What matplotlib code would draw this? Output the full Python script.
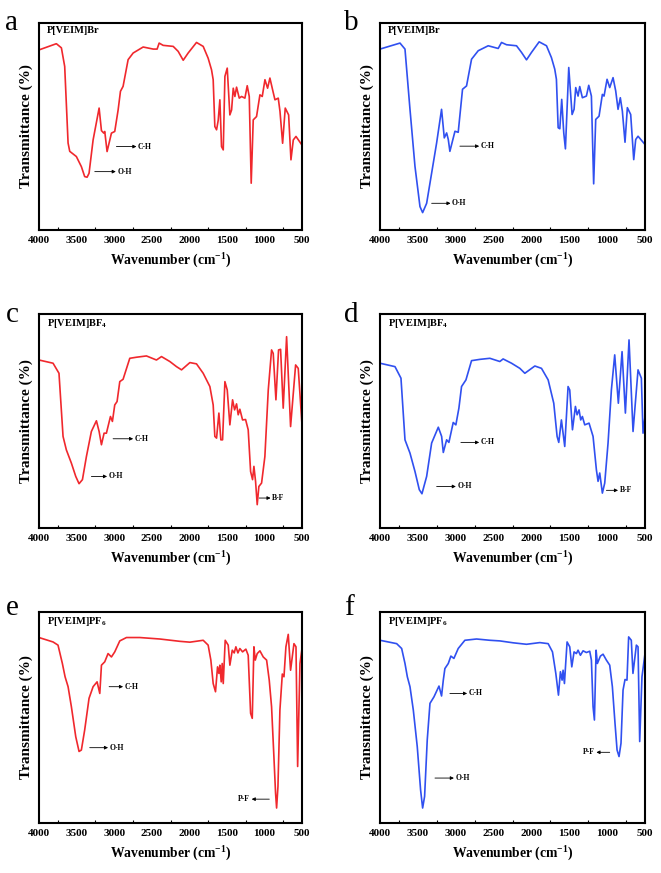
import matplotlib
matplotlib.use('Agg')
import matplotlib.pyplot as plt

plt.rcParams['font.family'] = 'Liberation Serif'
plt.rcParams['font.weight'] = 'bold'
plt.rcParams['mathtext.fontset'] = 'custom'
plt.rcParams['mathtext.rm'] = 'Liberation Serif:bold'
plt.rcParams['mathtext.bf'] = 'Liberation Serif:bold'

RED = '#f0282d'
BLUE = '#3050f0'

# ---- spectra (wavenumber, transmittance a.u.) ----
wn_a = [4000, 3769, 3702, 3658, 3613, 3591, 3503, 3436, 3392, 3360, 3334, 3280, 3200, 3169, 3138,
        3125, 3094, 3036, 2992, 2947, 2916, 2881, 2814, 2747, 2614, 2480, 2428, 2401, 2348, 2214,
        2148, 2081, 2015, 1904, 1815, 1749, 1704, 1682, 1660, 1637, 1615, 1593, 1571, 1548, 1526,
        1495, 1460, 1437, 1415, 1393, 1371, 1335, 1304, 1260, 1229, 1202, 1176, 1149, 1105, 1060,
        1029, 993, 958, 927, 891, 860, 816, 793, 758, 723, 678, 647, 616, 580, 500]
t_a = [87, 90, 88, 79, 42, 38, 35.5, 30.6, 25.8, 25.5, 27.4, 43.5, 58.9, 48, 46.8,
       47.6, 37.9, 46.8, 47.6, 58, 67, 69.4, 82.3, 85.5, 88.4, 87.4, 87.4, 90.3, 89.2, 88.7,
       86.3, 82, 85.5, 90.6, 88.7, 83, 77.4, 72.6, 50, 48.4, 53, 62.9, 40.3, 38.7, 74.2,
       78.2, 55.6, 58, 68.5, 64.5, 69, 63.7, 64.5, 63.7, 69.7, 64.5, 22.6, 53.2, 54.8, 65.3,
       64.5, 72.6, 68.5, 73.4, 67.7, 62.9, 63.7, 57.3, 41.9, 58.9, 55.6, 33.9, 43.5, 45.2, 41]

wn_b = [4000, 3736, 3670, 3604, 3538, 3472, 3437, 3384, 3318, 3252, 3187, 3151, 3120, 3098, 3077,
        3010, 2967, 2910, 2857, 2791, 2703, 2571, 2439, 2395, 2329, 2197, 2131, 2065, 1999, 1898,
        1801, 1736, 1692, 1670, 1647, 1625, 1600, 1573, 1551, 1507, 1463, 1437, 1415, 1384, 1362,
        1327, 1274, 1243, 1208, 1178, 1151, 1107, 1063, 1041, 1001, 966, 922, 887, 856, 826,
        799, 764, 733, 689, 649, 623, 592, 500]
t_b = [87.4, 90.3, 87.4, 58.3, 30.7, 11.3, 8.4, 12.9, 27.5, 42.1, 58.3, 44.5, 46.9, 43.7, 38,
       47.7, 47.2, 68, 69.6, 82.5, 86.6, 89, 87.7, 90.6, 89.5, 89, 85.8, 82.2, 85.8, 90.9,
       89, 83.3, 77.7, 72.8, 49.4, 48.9, 63.1, 46.9, 39.2, 78.5, 55.8, 58.3, 68.8, 64.7, 69.3,
       63.9, 64.7, 69.9, 64.7, 22.3, 53.4, 55, 65.5, 64.7, 72.8, 68.8, 73.6, 67.2, 58.3, 63.9,
       57.4, 42.4, 59.1, 55.8, 34, 43.7, 45.3, 41.3]

wn_c = [4000, 3813, 3734, 3680, 3636, 3569, 3511, 3467, 3422, 3369, 3303, 3236, 3200, 3169, 3134,
        3103, 3049, 3023, 2992, 2961, 2925, 2881, 2792, 2703, 2570, 2437, 2370, 2259, 2170, 2103,
        1992, 1904, 1815, 1726, 1682, 1660, 1637, 1606, 1580, 1557, 1526, 1495, 1460, 1424, 1397,
        1371, 1349, 1327, 1291, 1251, 1216, 1184, 1158, 1140, 1118, 1096, 1074, 1038, 994, 949,
        905, 883, 847, 812, 785, 750, 705, 652, 585, 550, 500]
t_c = [78.5, 77, 72.3, 42.8, 36.5, 30.3, 24.1, 20.7, 22.6, 33.4, 45.1, 50.1, 45.1, 38.9, 44.3,
       44.3, 52.1, 49.8, 57.5, 59.1, 68.4, 69.5, 79.3, 79.8, 80.4, 78.5, 80.1, 77.8, 75.4, 73.9,
       77.3, 76.7, 72.3, 66.1, 57.5, 42.8, 42, 53.7, 41.2, 41.2, 68.4, 64.5, 48.2, 59.9, 55.2,
       58, 52.9, 55.5, 50.5, 50.7, 45.9, 26.4, 22.6, 28.8, 21.8, 10.9, 19.4, 21, 33.4, 64.5,
       83.2, 81.6, 59.9, 83.2, 83.5, 56, 89.4, 47.4, 76.2, 74.6, 48.2]

wn_d = [4000, 3802, 3723, 3670, 3604, 3538, 3481, 3446, 3384, 3318, 3230, 3186, 3164, 3120, 3090,
        3033, 2998, 2958, 2923, 2865, 2791, 2681, 2549, 2417, 2374, 2263, 2153, 2087, 1955, 1867,
        1779, 1705, 1661, 1639, 1604, 1560, 1516, 1494, 1458, 1419, 1397, 1371, 1349, 1327, 1296,
        1239, 1186, 1142, 1120, 1098, 1063, 1032, 988, 944, 900, 852, 803, 759, 711, 658,
        592, 548, 526, 500]
t_d = [77, 75.4, 70, 41.2, 35, 26.4, 17.9, 16, 24.1, 39.7, 47.1, 42.8, 35.3, 41.2, 40,
       49.3, 48.2, 56, 66.1, 69.2, 78.2, 78.8, 79.3, 77.8, 79, 77, 74.6, 72.3, 75.7, 74.6,
       69.2, 58.3, 42.8, 40, 50.5, 38.1, 66.1, 64.5, 45.9, 56.8, 52.9, 55.2, 50.5, 52.1, 48.2,
       49, 42.8, 27.2, 21.8, 25.7, 16.3, 21, 39.7, 64.5, 80.9, 58.3, 82.4, 53.7, 87.9, 45.1,
       73.9, 70, 44.3, 52.1]

wn_e = [4000, 3813, 3747, 3689, 3653, 3613, 3569, 3511, 3467, 3436, 3392, 3334, 3280, 3227, 3191,
        3169, 3125, 3081, 3036, 2992, 2925, 2836, 2659, 2392, 2126, 1992, 1815, 1749, 1713, 1682,
        1651, 1624, 1606, 1593, 1575, 1562, 1548, 1522, 1482, 1460, 1428, 1402, 1380, 1353, 1327,
        1291, 1247, 1216, 1184, 1162, 1140, 1122, 1096, 1060, 1016, 971, 936, 905, 874, 852,
        838, 820, 794, 762, 740, 714, 683, 652, 607, 580, 558, 527, 500]
t_e = [87.9, 85.8, 84.3, 75.6, 69.3, 64.6, 55.1, 40.9, 33.9, 34.6, 44.1, 59.1, 64.6, 66.9, 61.4,
       74.8, 76.4, 80.3, 78.7, 81.1, 86.3, 87.9, 87.9, 87.2, 86.1, 85.7, 86.6, 84.3, 77.2, 66.1,
       62.2, 74, 70.9, 74.8, 66.9, 75.6, 66.1, 86.6, 84.3, 74.8, 81.9, 80.6, 83.5, 80.6, 82.7,
       81.1, 82.4, 79.5, 52, 49.6, 83.5, 77.2, 80.3, 81.6, 78.7, 77.2, 67.7, 55.1, 31.5, 14.2,
       7.1, 17.3, 53.5, 70.6, 69.3, 83.5, 89.4, 72.4, 85, 83.5, 26.8, 75.6, 82.7]

wn_f = [4000, 3780, 3714, 3670, 3639, 3604, 3560, 3508, 3464, 3437, 3411, 3376, 3340, 3287, 3221,
        3187, 3164, 3143, 3098, 3064, 3024, 2967, 2879, 2725, 2549, 2417, 2241, 2065, 1889, 1779,
        1722, 1678, 1643, 1617, 1595, 1582, 1564, 1546, 1529, 1494, 1467, 1437, 1406, 1384, 1353,
        1318, 1274, 1230, 1208, 1186, 1168, 1146, 1129, 1089, 1054, 1010, 966, 931, 896, 869,
        843, 817, 790, 764, 738, 716, 681, 659, 614, 592, 570, 540, 500]
t_f = [86.6, 85, 82.7, 75.6, 69.3, 64.6, 53.5, 36.2, 15.7, 7.1, 12.6, 39.4, 56.7, 59.8, 64.9,
       60.2, 67.7, 73.2, 75.6, 79.1, 78, 82.7, 86.6, 87.2, 86.6, 86.3, 85.4, 84.7, 85.5, 85,
       81.1, 70.9, 60.6, 71.7, 67.7, 72.4, 66.1, 76.4, 85.8, 83.5, 74, 81.1, 80.3, 81.9, 79.5,
       81.6, 80.8, 81.4, 77.2, 55.1, 48.8, 81.9, 75.6, 79.1, 80, 77.2, 74.8, 64.6, 47.2, 34.6,
       31.5, 37.8, 63, 68, 67.7, 88.2, 86.6, 70.9, 84.3, 83.5, 38.6, 69.3, 80.3]

titles = ['P[VEIM]Br', 'P[VEIM]Br', r'P[VEIM]BF$_\mathbf{4}$', r'P[VEIM]BF$_\mathbf{4}$',
          r'P[VEIM]PF$_\mathbf{6}$', r'P[VEIM]PF$_\mathbf{6}$']
letters = ['a', 'b', 'c', 'd', 'e', 'f']

# annotations: (label, tail x, head x, y)
notes = [
    [('C-H', 2970, 2703, 40.3), ('O-H', 3258, 2978, 28.2)],
    [('C-H', 2945, 2690, 40.5), ('O-H', 3318, 3068, 12.9)],
    [('C-H', 3014, 2747, 41.7), ('O-H', 3303, 3094, 24.1), ('B-F', 1069, 918, 14)],
    [('C-H', 2932, 2690, 40.0), ('O-H', 3252, 2998, 19.4), ('B-F', 1010, 856, 17.6)],
    [('C-H', 3067, 2881, 64.6), ('O-H', 3325, 3081, 35.7), ('P-F', 935, 1170, 11.3)],
    [('C-H', 3077, 2849, 61.4), ('O-H', 3274, 3024, 21.3), ('P-F', 966, 1142, 33.5)],
]

series = [(wn_a, t_a, RED), (wn_b, t_b, BLUE), (wn_c, t_c, RED),
          (wn_d, t_d, BLUE), (wn_e, t_e, RED), (wn_f, t_f, BLUE)]

W, H = 661, 873
boxes = [(39, 23, 302, 230), (380, 23, 645, 230),
         (39, 314, 302, 528), (380, 314, 645, 528),
         (39, 612, 302, 823), (380, 612, 645, 823)]
letter_pos = [(5, 30), (344, 30), (6, 322), (344, 322), (6, 615), (344, 615)]

fig = plt.figure(figsize=(W / 100, H / 100), dpi=100)

for i, (wn, t, col) in enumerate(series):
    x0, y0, x1, y1 = boxes[i]
    ax = fig.add_axes([x0 / W, 1 - y1 / H, (x1 - x0) / W, (y1 - y0) / H])
    ax.plot(wn, t, color=col, lw=1.2)
    ax.set_xlim(4000, 500)
    ax.set_ylim(0, 100)
    ax.set_xticks([4000, 3500, 3000, 2500, 2000, 1500, 1000, 500])
    ax.set_xticks([3750, 3250, 2750, 2250, 1750, 1250, 750], minor=True)
    ax.tick_params(axis='x', which='major', length=0, labelsize=8, pad=4)
    ax.tick_params(axis='x', which='minor', direction='in', length=2.5, width=0.8)
    ax.set_yticks([])
    for s in ax.spines.values():
        s.set_linewidth(1.5)
    ax.set_xlabel(r'Wavenumber (cm$^\mathbf{-1}$)', fontsize=9.8, fontweight='bold', labelpad=4)
    ax.set_ylabel('Transmittance (%)', fontsize=11, fontweight='bold', labelpad=4)
    ax.text(0.03, 0.985, titles[i], transform=ax.transAxes, ha='left', va='top',
            fontsize=7.5, fontweight='bold')
    for lab, xt, xh, y in notes[i]:
        ax.annotate('', xy=(xh, y), xytext=(xt, y),
                    arrowprops=dict(arrowstyle='-|>', lw=0.6, color='black',
                                    mutation_scale=5, shrinkA=0, shrinkB=0))
        if xh < xt:
            ax.text(xh - 20, y, lab, ha='left', va='center', fontsize=5.5, fontweight='bold')
        else:
            ax.text(xh + 20, y, lab, ha='right', va='center', fontsize=5.5, fontweight='bold')
    lx, ly = letter_pos[i]
    fig.text(lx / W, 1 - ly / H, letters[i], fontsize=21, fontweight='normal',
             ha='left', va='baseline')

fig.savefig('out.png', dpi=100)
